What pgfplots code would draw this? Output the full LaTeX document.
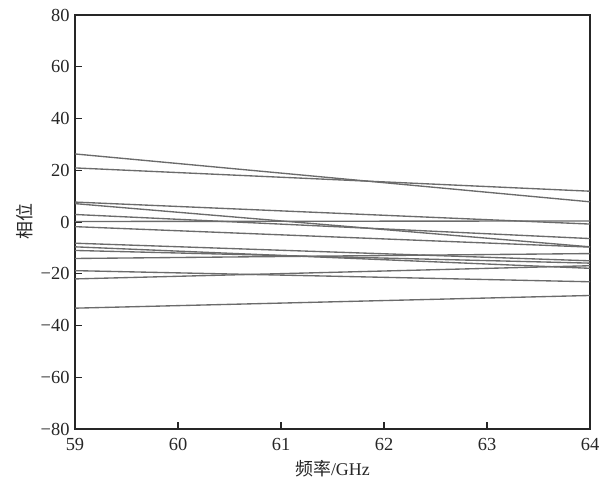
\documentclass[border=0pt]{standalone}
\usepackage{pgfplots}
\pgfplotsset{compat=1.18}
\usepackage{fontspec}
\setmainfont{Liberation Serif}
\newfontfamily\cjk{Noto Sans CJK SC}

\begin{document}
\begin{tikzpicture}
\begin{axis}[
  scale only axis,
  width=515bp, height=414bp,
  xmin=59, xmax=64, ymin=-80, ymax=80,
  xtick={59,60,61,62,63,64},
  ytick={-80,-60,-40,-20,0,20,40,60,80},
  yticklabels={−80,−60,−40,−20,0,20,40,60,80},
  xticklabels={59,60,61,62,63,64},
  tick pos=left,
  tick align=inside,
  major tick length=7bp,
  axis line style={line width=1.4bp, black!85},
  every tick/.style={line width=1.2bp, black!85},
  ticklabel style={font=\fontsize{18.5}{18.5}\selectfont, text=black!85},
  xticklabel style={yshift=-6bp},
  yticklabel style={xshift=-2bp},
  xlabel={{\cjk 频率}/GHz},
  ylabel={\cjk 相位},
  label style={font=\fontsize{18}{18}\selectfont, text=black!85},
  xlabel style={yshift=-3bp},
  ylabel style={yshift=1bp},
  ch/.style={draw=black!58, line width=1.35bp, mark=none},
]
% phase of each channel across the band
\addplot[ch] coordinates {(59,26.3) (64,7.8)};
\addplot[ch] coordinates {(59,20.9) (64,11.9)};
\addplot[ch] coordinates {(59,7.7) (64,-0.8)};
\addplot[ch] coordinates {(59,7.1) (64,-9.6)};
\addplot[ch] coordinates {(59,2.9) (64,-6.4)};
\addplot[ch] coordinates {(59,0.2) (64,0.4)};
\addplot[ch] coordinates {(59,-1.8) (64,-9.7)};
\addplot[ch] coordinates {(59,-8.2) (64,-15.0)};
\addplot[ch] coordinates {(59,-9.6) (64,-17.9)};
\addplot[ch] coordinates {(59,-11.0) (64,-15.9)};
\addplot[ch] coordinates {(59,-14.1) (64,-12.2)};
\addplot[ch] coordinates {(59,-18.8) (64,-23.1)};
\addplot[ch] coordinates {(59,-22.0) (64,-16.9)};
\addplot[ch] coordinates {(59,-33.3) (64,-28.4)};
\end{axis}
\path ([shift={(-75bp,-58bp)}]current axis.south west) rectangle ([shift={(18bp,15bp)}]current axis.north east);
\end{tikzpicture}
\end{document}
